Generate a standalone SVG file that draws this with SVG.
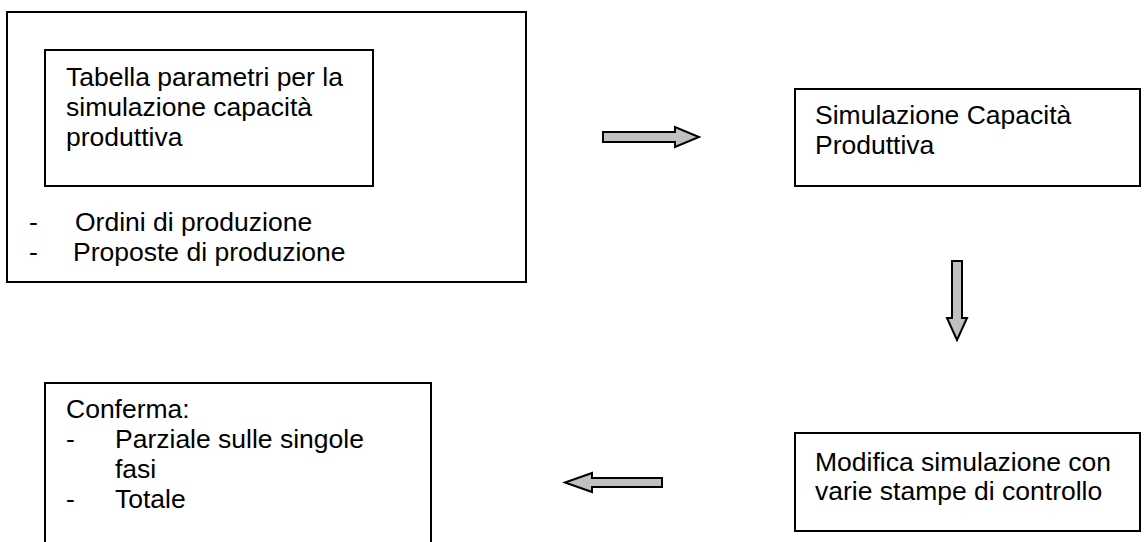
<svg xmlns="http://www.w3.org/2000/svg" width="1146" height="542" viewBox="0 0 1146 542">
<defs>
<style>
.box{fill:#fff;stroke:#000;stroke-width:2}
.arr{fill:#c0c0c0;stroke:#000;stroke-width:2;stroke-linejoin:miter}
text{font-family:"Liberation Sans",Arial,sans-serif;font-size:26.5px;fill:#000}
</style>
</defs>
<rect width="1146" height="542" fill="#fff"/>
<g id="node-input">
<rect class="box" x="7" y="12" width="519" height="270"/>
<g id="node-tabella">
<rect class="box" x="45" y="50" width="328" height="136"/>
<text x="66" y="86">Tabella parametri per la</text>
<text x="66" y="116">simulazione capacità</text>
<text x="66" y="146">produttiva</text>
</g>
<text x="29" y="231">-</text>
<text x="75" y="231">Ordini di produzione</text>
<text x="29" y="261">-</text>
<text x="73" y="261">Proposte di produzione</text>
</g>
<g id="node-simulazione">
<rect class="box" x="795" y="89" width="345" height="97"/>
<text x="815" y="124">Simulazione Capacità</text>
<text x="815" y="154">Produttiva</text>
</g>
<g id="node-modifica">
<rect class="box" x="795" y="433" width="345" height="98"/>
<text x="815" y="471">Modifica simulazione con</text>
<text x="815" y="500">varie stampe di controllo</text>
</g>
<g id="node-conferma">
<rect class="box" x="45" y="383" width="386" height="170"/>
<text x="66" y="418">Conferma:</text>
<text x="66" y="448">-</text>
<text x="115" y="448">Parziale sulle singole</text>
<text x="115" y="478">fasi</text>
<text x="66" y="508">-</text>
<text x="115" y="508">Totale</text>
</g>
<g id="connectors">
<polygon class="arr" points="603,132 675,132 675,127 699,137 675,147 675,142 603,142"/>
<polygon class="arr" points="952,261 962,261 962,318 967,318 957,340 947,318 952,318"/>
<polygon class="arr" points="662,478 592,478 592,473 565,482.5 592,492 592,487 662,487"/>
</g>
</svg>
